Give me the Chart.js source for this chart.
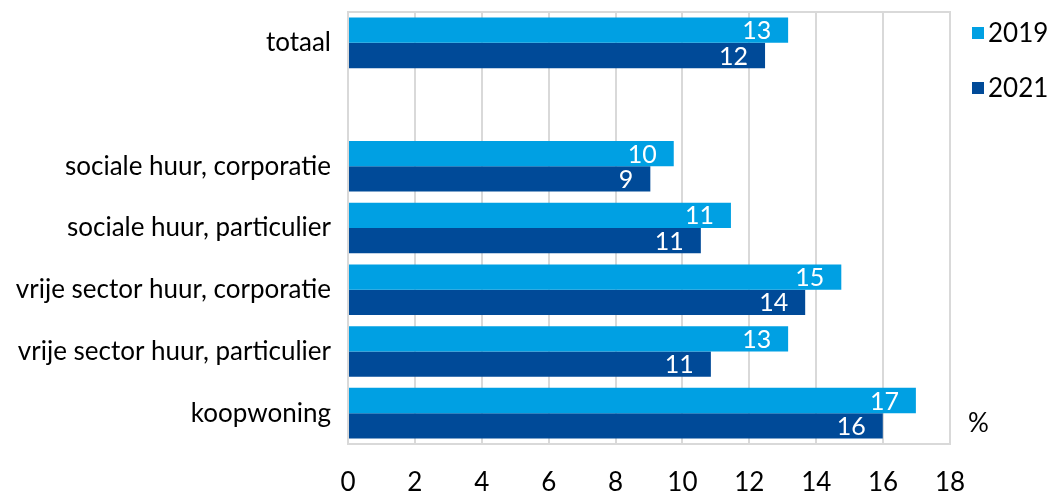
<!DOCTYPE html>
<html><head><meta charset="utf-8">
<script src="https://cdn.jsdelivr.net/npm/chart.js@4"></script>
<style>html,body{margin:0;padding:0;background:#fff}#wrap{width:1057px;height:495px}</style>
</head><body><div id="wrap"><canvas id="c" width="1057" height="495"></canvas></div>
<script>
const categories = ['totaal', '', 'sociale huur, corporatie', 'sociale huur, particulier', 'vrije sector huur, corporatie', 'vrije sector huur, particulier', 'koopwoning'];
const values2019 = [13.16, null, 9.74, 11.45, 14.75, 13.16, 16.98];
const values2021 = [12.47, null, 9.04, 10.55, 13.67, 10.85, 15.99];
const labels2019 = [13, null, 10, 11, 15, 13, 17];
const labels2021 = [12, null, 9, 11, 14, 11, 16];
const xTicks = [0, 2, 4, 6, 8, 10, 12, 14, 16, 18];
const seriesNames = ['2019', '2021'];
const seriesColors = ['#00A0E3', '#004A98'];
const unitLabel = '%';

const FONT = 'Lato, "Open Sans", sans-serif';

const extras = {
  id: 'extras',
  afterDatasetsDraw(chart) {
    const ctx = chart.ctx;
    const a = chart.chartArea;
    ctx.save();
    ctx.strokeStyle = '#d9d9d9';
    ctx.lineWidth = 2;
    ctx.strokeRect(a.left, a.top, a.right - a.left, a.bottom - a.top);
    ctx.font = '25px ' + FONT;
    ctx.fillStyle = '#ffffff';
    ctx.textAlign = 'right';
    ctx.textBaseline = 'middle';
    const lbls = [labels2019, labels2021];
    chart.data.datasets.forEach((ds, i) => {
      const meta = chart.getDatasetMeta(i);
      meta.data.forEach((bar, j) => {
        if (lbls[i][j] == null) return;
        ctx.fillText(String(lbls[i][j]), bar.x - 17, bar.y + 1);
      });
    });
    // legend
    ctx.font = '26px ' + FONT;
    ctx.textAlign = 'left';
    const legendY = [33, 88];
    seriesNames.forEach((n, i) => {
      ctx.fillStyle = seriesColors[i];
      ctx.fillRect(a.right + 22, legendY[i] - 6, 12, 12);
      ctx.fillStyle = '#000';
      ctx.fillText(n, a.right + 38, legendY[i] + 1);
    });
    ctx.fillStyle = '#000';
    ctx.fillText(unitLabel, a.right + 18, 424);
    ctx.restore();
  }
};

new Chart(document.getElementById('c'), {
  type: 'bar',
  data: {
    labels: categories,
    datasets: [
      { label: seriesNames[0], data: values2019, backgroundColor: seriesColors[0], borderWidth: 0 },
      { label: seriesNames[1], data: values2021, backgroundColor: seriesColors[1], borderWidth: 0 }
    ]
  },
  options: {
    indexAxis: 'y',
    responsive: false,
    animation: false,
    devicePixelRatio: 1,
    categoryPercentage: 0.82,
    barPercentage: 1.0,
    layout: { padding: { top: 12, right: 107, bottom: 0, left: 0 } },
    scales: {
      x: {
        min: 0, max: 18,
        afterBuildTicks(scale) { scale.ticks = xTicks.map(v => ({ value: v })); },
        afterFit(scale) { scale.height = 51; },
        grid: { color: '#d9d9d9', lineWidth: 2, drawTicks: false },
        border: { display: false },
        ticks: { color: '#000', font: { size: 26, family: FONT, lineHeight: 1.2 }, padding: 23, maxRotation: 0 }
      },
      y: {
        afterFit(scale) { scale.width = 348; },
        grid: { display: true, color: 'transparent', drawOnChartArea: false, drawTicks: true, tickLength: 17, tickColor: 'transparent' },
        border: { display: false },
        ticks: { color: '#000', font: { size: 26, family: FONT, lineHeight: 0.9 }, padding: 0, autoSkip: false }
      }
    },
    plugins: {
      legend: { display: false },
      tooltip: { enabled: false }
    }
  },
  plugins: [extras]
});
</script></body></html>
